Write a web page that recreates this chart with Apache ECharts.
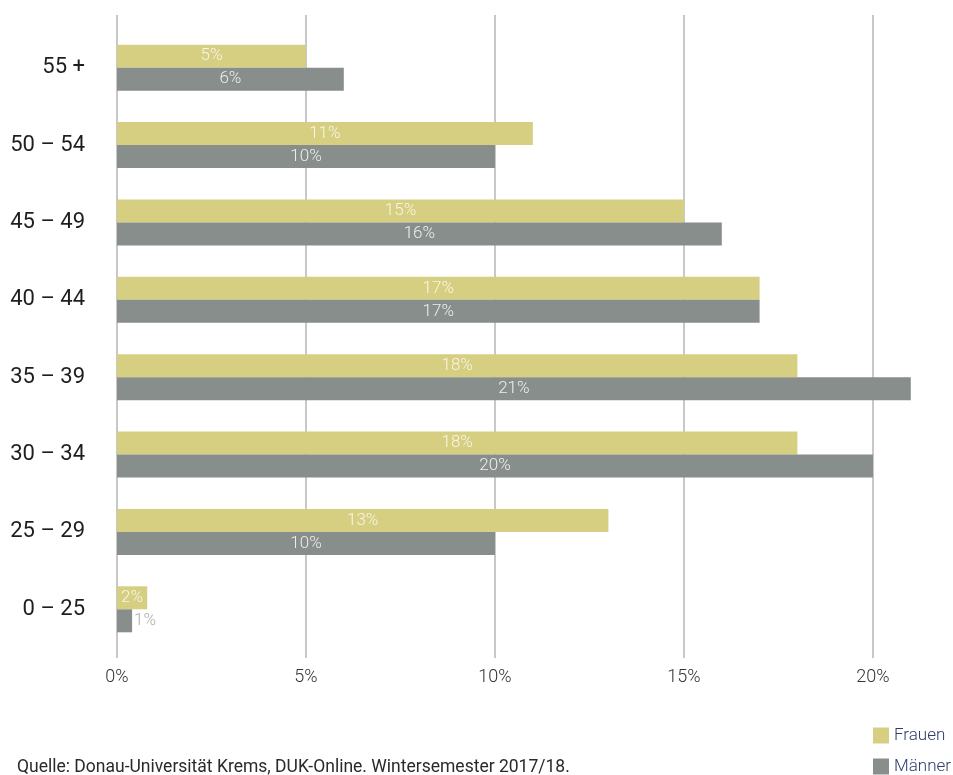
<!DOCTYPE html>
<html>
<head>
<meta charset="utf-8">
<script src="https://cdn.jsdelivr.net/npm/echarts@6/dist/echarts.min.js"></script>
<style>
  html, body { margin: 0; padding: 0; background: #fff; }
  #chart { width: 953px; height: 775px; }
</style>
</head>
<body>
<div id="chart"></div>
<script>
// Altersgruppen, von unten nach oben
const categories = ['0 – 25', '25 – 29', '30 – 34', '35 – 39', '40 – 44', '45 – 49', '50 – 54', '55 +'];
// Balkenlängen in %
const frauen = [0.8, 13, 18, 18, 17, 15, 11, 5];
const maenner = [0.4, 10, 20, 21, 17, 16, 10, 6];
// Beschriftungen wie im Original
const frauenLabels = ['2%', '13%', '18%', '18%', '17%', '15%', '11%', '5%'];
const maennerLabels = ['1%', '10%', '20%', '21%', '17%', '16%', '10%', '6%'];
const xMin = 0, xMax = 20, xStep = 5;

const font = "Roboto, 'Liberation Sans Narrow', sans-serif";

const mychart = echarts.init(document.getElementById('chart'));

// sehr kurze Balken: Beschriftung rechts daneben, grau
const barItem = (vals, i) => {
  const item = { value: vals[i] };
  if (vals[i] < 0.6) {
    item.label = { position: 'right', distance: 2, color: '#a9aeac' };
  }
  return item;
};

const option = {
  backgroundColor: '#fff',
  textStyle: { fontFamily: font },
  title: {
    text: 'Quelle: Donau-Universität Krems, DUK-Online. Wintersemester 2017/18.',
    left: 17,
    top: 759,
    padding: 0,
    textStyle: { fontFamily: font, fontSize: 17.5, fontWeight: 'normal', color: '#2a2a2a' }
  },
  legend: {
    data: ['Frauen', 'Männer'],
    orient: 'vertical',
    left: 873,
    top: 727,
    padding: 0,
    icon: 'rect',
    itemWidth: 16,
    itemHeight: 16,
    itemGap: 14,
    textStyle: { fontFamily: font, fontSize: 17, lineHeight: 16, color: '#2d3d6b', fontWeight: 300 }
  },
  grid: [
    { left: 117, right: 80, top: 15, bottom: 117 },
    { left: 117, right: 80, top: 29, bottom: 127 }
  ],
  xAxis: [
    {
      gridIndex: 0,
      type: 'value',
      min: xMin,
      max: xMax,
      interval: xStep,
      axisLine: { show: false },
      axisTick: { show: false },
      splitLine: { lineStyle: { color: '#c8c8c8', width: 2 } },
      axisLabel: {
        formatter: '{value}%',
        margin: 10,
        fontFamily: font,
        fontSize: 18,
        fontWeight: 300,
        color: '#333'
      }
    },
    { gridIndex: 1, type: 'value', min: xMin, max: xMax, show: false }
  ],
  yAxis: [
    { gridIndex: 0, type: 'category', data: categories, show: false },
    {
      gridIndex: 1,
      type: 'category',
      data: categories,
      axisLine: { show: false },
      axisTick: { show: false },
      splitLine: { show: false },
      axisLabel: {
        margin: 32,
        fontFamily: font,
        fontSize: 22,
        color: '#1e1e1e'
      }
    }
  ],
  series: [
    {
      name: 'Frauen',
      type: 'bar',
      xAxisIndex: 1,
      yAxisIndex: 1,
      barWidth: 23,
      barGap: '0%',
      clip: false,
      itemStyle: { color: '#d6cf81' },
      label: {
        show: true,
        position: 'inside',
        fontFamily: font,
        fontSize: 17,
        fontWeight: 300,
        color: '#f7f5e6',
        formatter: (p) => frauenLabels[p.dataIndex]
      },
      data: frauen.map((v, i) => barItem(frauen, i))
    },
    {
      name: 'Männer',
      type: 'bar',
      xAxisIndex: 1,
      yAxisIndex: 1,
      barWidth: 23,
      barGap: '0%',
      clip: false,
      itemStyle: { color: '#878e8b' },
      label: {
        show: true,
        position: 'inside',
        fontFamily: font,
        fontSize: 17,
        fontWeight: 300,
        color: '#eeeeec',
        formatter: (p) => maennerLabels[p.dataIndex]
      },
      data: maenner.map((v, i) => barItem(maenner, i))
    }
  ]
};

mychart.setOption(option);
</script>
</body>
</html>
